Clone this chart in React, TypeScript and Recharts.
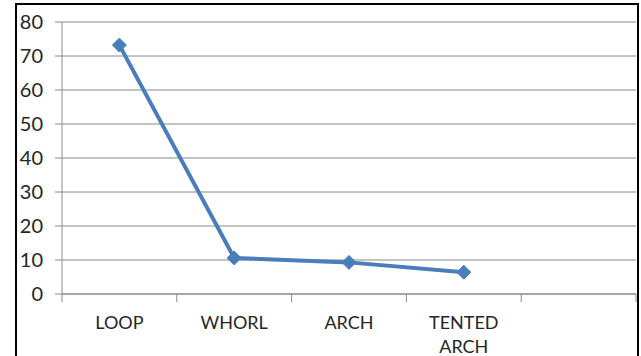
import { LineChart, Line, XAxis, YAxis, CartesianGrid } from 'recharts'

const CATEGORIES = ['LOOP', 'WHORL', 'ARCH', 'TENTED ARCH', '']
const VALUES: (number | null)[] = [73.2, 10.6, 9.3, 6.4, null]
const Y_TICKS = [0, 10, 20, 30, 40, 50, 60, 70, 80]

const W = 641
const H = 356
const M = { top: 22, right: 5, left: 10, bottom: 12 }
const Y_W = 52
const BAND = (W - M.left - M.right - Y_W) / CATEGORIES.length
const FONT = 'Lato, "Open Sans", sans-serif'

const data = CATEGORIES.map((name, i) => ({ name, value: VALUES[i] }))

function CatTick({ x, y, payload, index }: any) {
  const lines = String(payload.value).split(' ').filter(Boolean)
  const last = index === CATEGORIES.length - 1
  return (
    <g>
      <line x1={x - BAND / 2} y1={y} x2={x - BAND / 2} y2={y + 8} stroke="#8a8a8a" />
      {last && <line x1={x + BAND / 2} y1={y} x2={x + BAND / 2} y2={y + 8} stroke="#8a8a8a" />}
      <text x={x} y={y} textAnchor="middle" fill="#262626" fontSize={18} fontFamily={FONT}>
        {lines.map((l, i) => (
          <tspan key={i} x={x} dy={i === 0 ? 35 : 24}>{l}</tspan>
        ))}
      </text>
    </g>
  )
}

function Diamond({ cx, cy }: any) {
  if (cx == null || cy == null) return null
  const r = 7
  return <polygon points={`${cx},${cy - r} ${cx + r},${cy} ${cx},${cy + r} ${cx - r},${cy}`} fill="#4a7ebb" stroke="#4a7ebb" />
}

export default function App() {
  return (
    <div style={{ position: 'fixed', left: 0, top: 0, width: W, height: H, background: '#fff', overflow: 'hidden' }}>
      <div style={{ position: 'absolute', left: 15, top: 3, width: 620, height: H + 10, borderLeft: '2px solid #000', borderTop: '2px solid #000', borderRight: '2px solid #000' }} />
      <div style={{ position: 'absolute', left: 0, top: 0 }}>
        <LineChart width={W} height={H} data={data} margin={M}>
          <CartesianGrid vertical={false} stroke="#888" />
          <XAxis dataKey="name" scale="band" tickLine={false} tickSize={0} tickMargin={0}
            axisLine={{ stroke: '#8a8a8a' }} tick={<CatTick />} interval={0} height={50} />
          <YAxis domain={[0, 80]} ticks={Y_TICKS} width={Y_W} tickSize={7} tickMargin={12}
            axisLine={{ stroke: '#8a8a8a' }} tickLine={{ stroke: '#8a8a8a' }}
            tick={{ fill: '#262626', fontSize: 20, fontFamily: FONT }} />
          <Line dataKey="value" stroke="#4a7ebb" strokeWidth={4} dot={<Diamond />} activeDot={false} isAnimationActive={false} />
        </LineChart>
      </div>
    </div>
  )
}
